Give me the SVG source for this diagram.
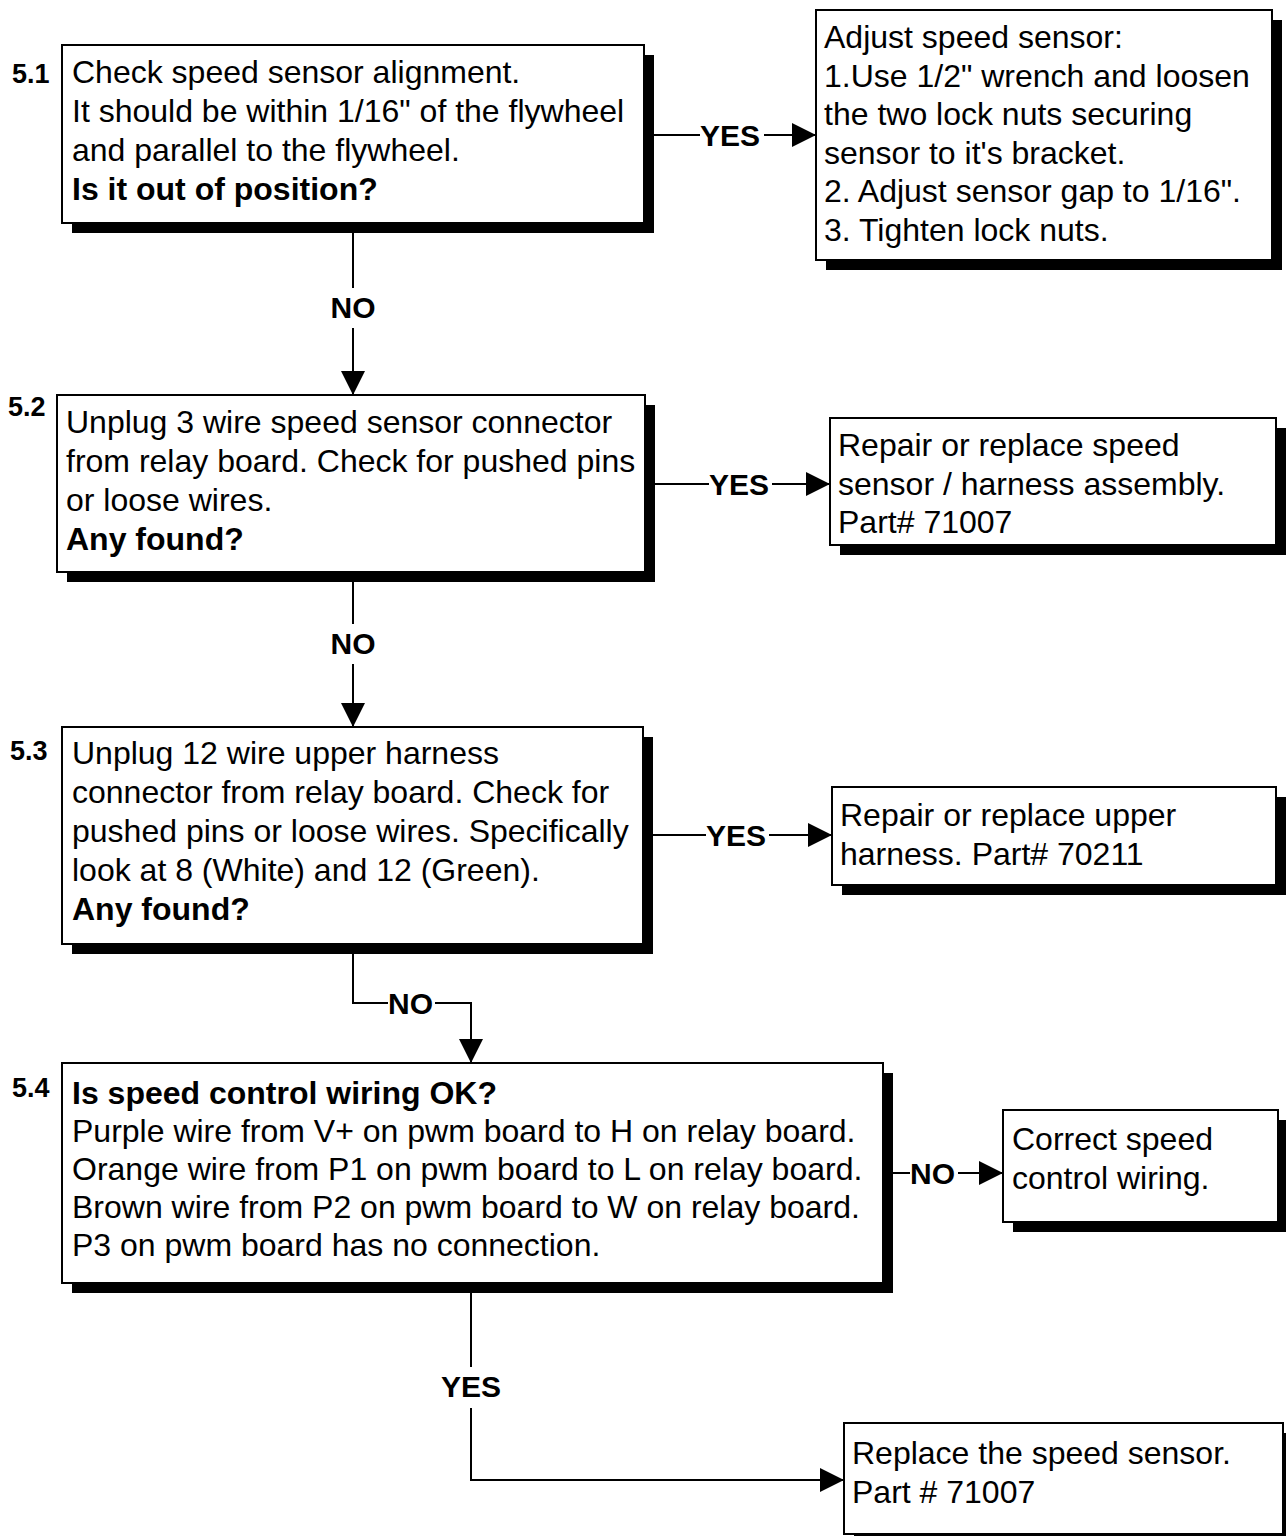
<svg xmlns="http://www.w3.org/2000/svg" width="1286" height="1536" viewBox="0 0 1286 1536">
<style>
.box{fill:#fff;stroke:#000;stroke-width:2}
.sh{fill:#000}
.t{font-family:"Liberation Sans",Arial,sans-serif;font-size:32px;fill:#000}
.b{font-weight:bold}
.lbl{font-family:"Liberation Sans",Arial,sans-serif;font-size:27px;font-weight:bold;fill:#000}
.cl{font-family:"Liberation Sans",Arial,sans-serif;font-size:30px;font-weight:bold;fill:#000}
.ln{stroke:#000;stroke-width:2;fill:none}
</style>
<defs>
<marker id="ah" markerUnits="userSpaceOnUse" markerWidth="24" markerHeight="24" refX="24" refY="12" orient="auto" viewBox="0 0 24 24">
<path d="M0,0 L24,12 L0,24 z" fill="#000"/>
</marker>
</defs>
<rect width="1286" height="1536" fill="#fff"/>

<g id="n51">
<rect class="sh" x="72" y="55" width="582" height="178"/>
<rect class="box" x="62" y="45" width="582" height="178"/>
<text class="lbl" x="12" y="83">5.1</text>
<text class="t" x="72" y="83">Check speed sensor alignment.</text>
<text class="t" x="72" y="122">It should be within 1/16" of the flywheel</text>
<text class="t" x="72" y="161">and parallel to the flywheel.</text>
<text class="t b" x="72" y="200">Is it out of position?</text>
</g>

<g id="n51y">
<rect class="sh" x="826" y="20" width="456" height="250"/>
<rect class="box" x="816" y="10" width="456" height="250"/>
<text class="t" x="824" y="48">Adjust speed sensor:</text>
<text class="t" x="824" y="86.5">1.Use 1/2" wrench and loosen</text>
<text class="t" x="824" y="125">the two lock nuts securing</text>
<text class="t" x="824" y="163.5">sensor to it's bracket.</text>
<text class="t" x="824" y="202">2. Adjust sensor gap to 1/16".</text>
<text class="t" x="824" y="240.5">3. Tighten lock nuts.</text>
</g>

<g id="n52">
<rect class="sh" x="67" y="405" width="588" height="177"/>
<rect class="box" x="57" y="395" width="588" height="177"/>
<text class="lbl" x="8" y="416">5.2</text>
<text class="t" x="66" y="433">Unplug 3 wire speed sensor connector</text>
<text class="t" x="66" y="472">from relay board. Check for pushed pins</text>
<text class="t" x="66" y="511">or loose wires.</text>
<text class="t b" x="66" y="550">Any found?</text>
</g>

<g id="n52y">
<rect class="sh" x="840" y="428" width="446" height="127"/>
<rect class="box" x="830" y="418" width="446" height="127"/>
<text class="t" x="838" y="456">Repair or replace speed</text>
<text class="t" x="838" y="494.5">sensor / harness assembly.</text>
<text class="t" x="838" y="533">Part# 71007</text>
</g>

<g id="n53">
<rect class="sh" x="72" y="737" width="581" height="217"/>
<rect class="box" x="62" y="727" width="581" height="217"/>
<text class="lbl" x="10" y="760">5.3</text>
<text class="t" x="72" y="764">Unplug 12 wire upper harness</text>
<text class="t" x="72" y="803">connector from relay board. Check for</text>
<text class="t" x="72" y="842">pushed pins or loose wires. Specifically</text>
<text class="t" x="72" y="881">look at 8 (White) and 12 (Green).</text>
<text class="t b" x="72" y="920">Any found?</text>
</g>

<g id="n53y">
<rect class="sh" x="842" y="797" width="444" height="98"/>
<rect class="box" x="832" y="787" width="444" height="98"/>
<text class="t" x="840" y="826">Repair or replace upper</text>
<text class="t" x="840" y="865">harness. Part# 70211</text>
</g>

<g id="n54">
<rect class="sh" x="72" y="1073" width="821" height="220"/>
<rect class="box" x="62" y="1063" width="821" height="220"/>
<text class="lbl" x="12" y="1097">5.4</text>
<text class="t b" x="72" y="1104">Is speed control wiring OK?</text>
<text class="t" x="72" y="1142">Purple wire from V+ on pwm board to H on relay board.</text>
<text class="t" x="72" y="1180">Orange wire from P1 on pwm board to L on relay board.</text>
<text class="t" x="72" y="1218">Brown wire from P2 on pwm board to W on relay board.</text>
<text class="t" x="72" y="1256">P3 on pwm board has no connection.</text>
</g>

<g id="n54n">
<rect class="sh" x="1013" y="1120" width="275" height="112"/>
<rect class="box" x="1003" y="1110" width="275" height="112"/>
<text class="t" x="1012" y="1150">Correct speed</text>
<text class="t" x="1012" y="1189">control wiring.</text>
</g>

<g id="n54y">
<rect class="sh" x="854" y="1433" width="439" height="111"/>
<rect class="box" x="844" y="1423" width="439" height="111"/>
<text class="t" x="852" y="1464">Replace the speed sensor.</text>
<text class="t" x="852" y="1503">Part # 71007</text>
</g>

<g id="connectors">
<line class="ln" x1="654" y1="135" x2="700" y2="135"/>
<text class="cl" x="700" y="146">YES</text>
<line class="ln" x1="764" y1="135" x2="816" y2="135" marker-end="url(#ah)"/>

<line class="ln" x1="353" y1="233" x2="353" y2="288"/>
<text class="cl" x="353" y="318" text-anchor="middle">NO</text>
<line class="ln" x1="353" y1="328" x2="353" y2="395" marker-end="url(#ah)"/>

<line class="ln" x1="655" y1="484" x2="709" y2="484"/>
<text class="cl" x="709" y="495">YES</text>
<line class="ln" x1="772" y1="484" x2="830" y2="484" marker-end="url(#ah)"/>

<line class="ln" x1="353" y1="582" x2="353" y2="624"/>
<text class="cl" x="353" y="654" text-anchor="middle">NO</text>
<line class="ln" x1="353" y1="664" x2="353" y2="727" marker-end="url(#ah)"/>

<line class="ln" x1="653" y1="835" x2="706" y2="835"/>
<text class="cl" x="706" y="846">YES</text>
<line class="ln" x1="769" y1="835" x2="832" y2="835" marker-end="url(#ah)"/>

<polyline class="ln" points="353,954 353,1003 388,1003"/>
<text class="cl" x="388" y="1014">NO</text>
<polyline class="ln" points="435,1003 471,1003 471,1063" marker-end="url(#ah)"/>

<line class="ln" x1="893" y1="1173" x2="910" y2="1173"/>
<text class="cl" x="910" y="1184">NO</text>
<line class="ln" x1="958" y1="1173" x2="1003" y2="1173" marker-end="url(#ah)"/>

<line class="ln" x1="471" y1="1293" x2="471" y2="1367"/>
<text class="cl" x="471" y="1397" text-anchor="middle">YES</text>
<polyline class="ln" points="471,1408 471,1480 844,1480" marker-end="url(#ah)"/>
</g>
</svg>
